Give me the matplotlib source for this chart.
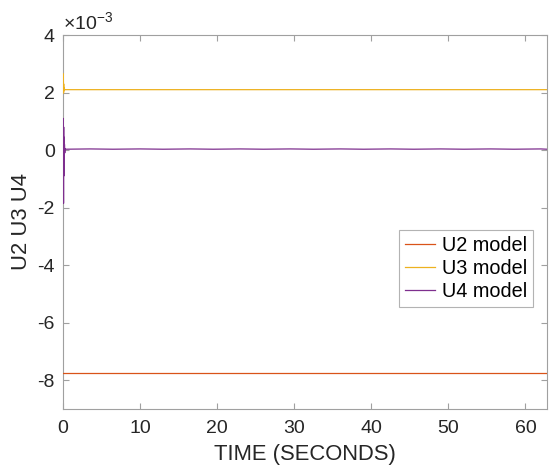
import matplotlib
matplotlib.use("Agg")
import matplotlib.pyplot as plt
from matplotlib.ticker import FuncFormatter, MultipleLocator

plt.rcParams['font.family'] = ['Liberation Sans', 'DejaVu Sans']
plt.rcParams['mathtext.fontset'] = 'custom'
plt.rcParams['mathtext.rm'] = 'Liberation Sans'
plt.rcParams['axes.unicode_minus'] = False
plt.rcParams['path.simplify'] = False

# Time samples (seconds) and signals (units of 1e-3)
time = [0.0, 0.04, 0.07, 0.09, 0.11, 0.13, 0.16, 0.19, 0.23, 0.28, 0.35,
        3.5, 6.5, 10.0, 13.0, 16.5, 19.5, 23.0, 26.0, 29.5, 32.5, 36.0,
        39.0, 42.5, 45.5, 49.0, 52.0, 55.5, 58.5, 62.0, 62.8]
u2 = [-7.75] * len(time)
u3 = [2.10, 2.65, 1.98, 2.30, 2.05, 2.16, 2.08, 2.12, 2.10, 2.10, 2.10,
      2.10, 2.10, 2.10, 2.10, 2.10, 2.10, 2.10, 2.10, 2.10, 2.10, 2.10,
      2.10, 2.10, 2.10, 2.10, 2.10, 2.10, 2.10, 2.10, 2.10]
u4 = [0.0, 1.10, -1.85, 0.80, -0.90, 0.45, -0.35, 0.20, -0.10, 0.05, 0.03,
      0.04, 0.03, 0.04, 0.03, 0.04, 0.03, 0.04, 0.03, 0.04, 0.03, 0.04,
      0.03, 0.04, 0.03, 0.04, 0.03, 0.04, 0.03, 0.04, 0.03]
labels = ['U2 model', 'U3 model', 'U4 model']
colors = ['#D95319', '#EDB120', '#7E2F8E']

fig = plt.figure(figsize=(5.49, 4.66), dpi=100)
ax = fig.add_axes([63/549, 1-409/466, (547-63)/549, (409-35)/466])

for series, lab, col in zip([u2, u3, u4], labels, colors):
    ax.plot(time, [v * 1e-3 for v in series], color=col, lw=0.9, label=lab,
            zorder=3)

ax.set_xlim(0, 62.8)
ax.set_ylim(-9e-3, 4e-3)
ax.xaxis.set_major_locator(MultipleLocator(10))
ax.yaxis.set_major_locator(MultipleLocator(2e-3))
ax.yaxis.set_major_formatter(FuncFormatter(lambda v, p: f"{round(v*1e3):d}"))

axis_col = '#A0A0A0'
for s in ax.spines.values():
    s.set_color(axis_col)
    s.set_linewidth(0.8)
ax.tick_params(direction='in', length=4, width=0.8, color=axis_col,
               labelsize=14, labelcolor='#262626', top=True, right=True,
               labeltop=False, labelright=False)
ax.tick_params(axis='x', pad=8)
ax.tick_params(axis='y', pad=6)

ax.set_xlabel('TIME (SECONDS)', fontsize=15.8, color='#262626', labelpad=5)
ax.set_ylabel('U2 U3 U4', fontsize=15.8, color='#262626', labelpad=4)

ax.text(0.0, 1.005, r'$\times\mathregular{10^{-3}}$', transform=ax.transAxes,
        fontsize=14, color='#262626', ha='left', va='bottom')

leg = ax.legend(loc='upper left', bbox_to_anchor=((399-63)/484, 1-(230-35)/374),
                fontsize=14.3, frameon=True, fancybox=False, borderpad=0.3,
                labelspacing=0.2, handlelength=1.5, handletextpad=0.35,
                borderaxespad=0)
leg.set_zorder(5)
leg.get_frame().set_edgecolor('#A0A0A0')
leg.get_frame().set_linewidth(0.8)

fig.savefig('out.png', dpi=100)
